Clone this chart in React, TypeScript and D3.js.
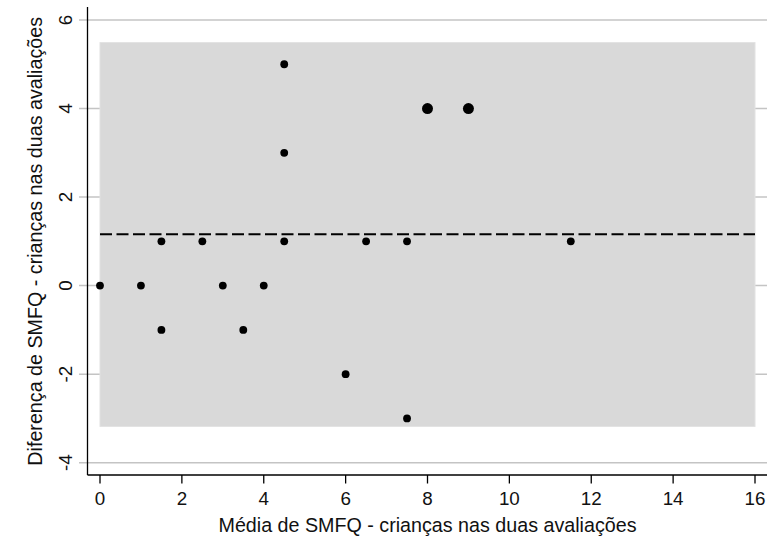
import React from "react";
import * as d3 from "d3";

const meanVals = [0, 1, 1.5, 1.5, 2.5, 3, 3.5, 4, 4.5, 4.5, 4.5, 6, 6.5, 7.5, 7.5, 8, 9, 11.5];
const diffVals = [0, 0, 1, -1, 1, 0, -1, 0, 5, 3, 1, -2, 1, 1, -3, 4, 4, 1];
const counts = [1, 1, 1, 1, 1, 1, 1, 1, 1, 1, 1, 1, 1, 1, 1, 2, 2, 1];
const meanDiff = 1.16;
const upperLimit = 5.49;
const lowerLimit = -3.18;
const xTicks = [0, 2, 4, 6, 8, 10, 12, 14, 16];
const yTicks = [-4, -2, 0, 2, 4, 6];
const xTitle = "Média de SMFQ - crianças nas duas avaliações";
const yTitle = "Diferença de SMFQ - crianças nas duas avaliações";

const W = 772;
const H = 547;
const FONT = "'Liberation Sans', Arial, sans-serif";

export default function App() {
  const x = d3.scaleLinear().domain([0, 16]).range([100, 755]);
  const y = d3.scaleLinear().domain([-4, 6]).range([462.7, 20]);
  const r = d3.scaleSqrt().domain([1, 2]).range([3.9, 5.5]);
  const axisX = 87.5;
  const axisY = 475;
  const right = 767;
  const line = d3.line<[number, number]>().x((d) => x(d[0])).y((d) => y(d[1]));

  return (
    <svg
      width={W}
      height={H}
      style={{ position: "fixed", left: 0, top: 0, background: "#fff" }}
      fontFamily={FONT}
    >
      <rect x={0} y={0} width={W} height={H} fill="#fff" />
      {yTicks.map((t) => (
        <line key={"g" + t} x1={79} x2={right} y1={y(t)} y2={y(t)} stroke="#c4c4c4" strokeWidth={1.5} />
      ))}
      <rect
        x={x(0)}
        y={y(upperLimit)}
        width={x(16) - x(0)}
        height={y(lowerLimit) - y(upperLimit)}
        fill="#d9d9d9"
        stroke="#e2e2e2"
        strokeWidth={1}
      />
      <path
        d={line([[0, meanDiff], [16, meanDiff]]) || ""}
        stroke="#000"
        strokeWidth={2}
        strokeDasharray="12,4.5"
        fill="none"
      />
      {meanVals.map((m, i) => (
        <circle key={"p" + i} cx={x(m)} cy={y(diffVals[i])} r={r(counts[i])} fill="#000" />
      ))}
      <line x1={axisX} x2={axisX} y1={7} y2={axisY} stroke="#000" strokeWidth={1.3} />
      <line x1={axisX} x2={right} y1={axisY} y2={axisY} stroke="#000" strokeWidth={1.3} />
      {xTicks.map((t) => (
        <g key={"x" + t}>
          <line x1={x(t)} x2={x(t)} y1={axisY} y2={483.5} stroke="#000" strokeWidth={1.3} />
          <text x={x(t)} y={505} textAnchor="middle" fontSize={18.8} fill="#111">
            {t}
          </text>
        </g>
      ))}
      {yTicks.map((t) => (
        <text
          key={"yl" + t}
          transform={`translate(72,${y(t)}) rotate(-90)`}
          textAnchor="middle"
          fontSize={18.8}
          fill="#111"
        >
          {t}
        </text>
      ))}
      <text x={(x(0) + x(16)) / 2} y={531.5} textAnchor="middle" fontSize={19.7} fill="#111">
        {xTitle}
      </text>
      <text
        transform={`translate(42,${y(1)}) rotate(-90)`}
        textAnchor="middle"
        fontSize={19.7}
        fill="#111"
      >
        {yTitle}
      </text>
    </svg>
  );
}
